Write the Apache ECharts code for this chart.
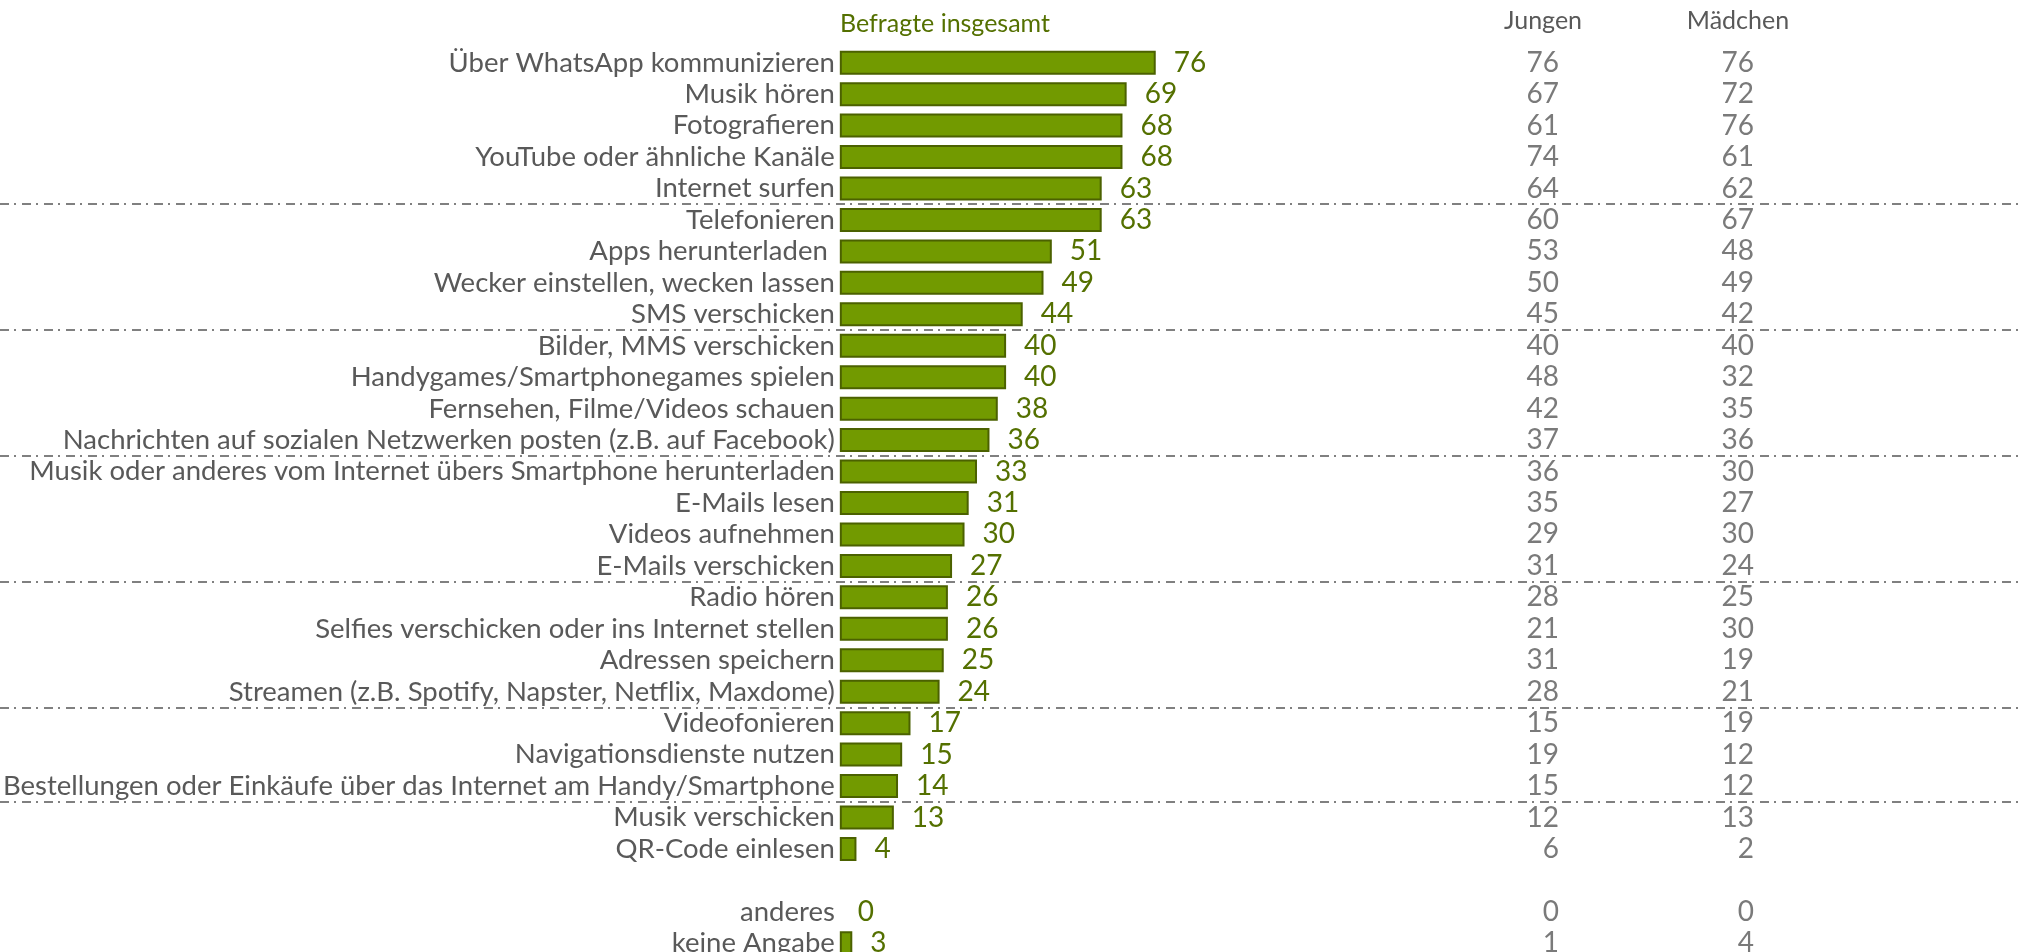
<!DOCTYPE html>
<html>
<head>
<meta charset="utf-8">
<title>Handy-Nutzung</title>
<script src="https://cdn.jsdelivr.net/npm/echarts@6/dist/echarts.min.js"></script>
<style>
  html, body { margin: 0; padding: 0; background: #fff; overflow: hidden; }
  /* unterste Zeile ist im Original abgeschnitten, daher etwas höher als das Fenster */
  #chart { width: 2020px; height: 972px; }
</style>
</head>
<body>
<div id="chart"></div>
<script>
// Kategorien (eine leere Zeile vor "anderes")
var categories = [
  'Über WhatsApp kommunizieren', 'Musik hören', 'Fotografieren', 'YouTube oder ähnliche Kanäle',
  'Internet surfen', 'Telefonieren', 'Apps herunterladen ', 'Wecker einstellen, wecken lassen',
  'SMS verschicken', 'Bilder, MMS verschicken', 'Handygames/Smartphonegames spielen',
  'Fernsehen, Filme/Videos schauen', 'Nachrichten auf sozialen Netzwerken posten (z.B. auf Facebook)',
  'Musik oder anderes vom Internet übers Smartphone herunterladen', 'E-Mails lesen', 'Videos aufnehmen',
  'E-Mails verschicken', 'Radio hören', 'Selfies verschicken oder ins Internet stellen', 'Adressen speichern',
  'Streamen (z.B. Spotify, Napster, Netflix, Maxdome)', 'Videofonieren', 'Navigationsdienste nutzen',
  'Bestellungen oder Einkäufe über das Internet am Handy/Smartphone', 'Musik verschicken', 'QR-Code einlesen',
  '', 'anderes', 'keine Angabe'
];
var total   = [76, 69, 68, 68, 63, 63, 51, 49, 44, 40, 40, 38, 36, 33, 31, 30, 27, 26, 26, 25, 24, 17, 15, 14, 13, 4, null, 0, 3];
var jungen  = [76, 67, 61, 74, 64, 60, 53, 50, 45, 40, 48, 42, 37, 36, 35, 29, 31, 28, 21, 31, 28, 15, 19, 15, 12, 6, null, 0, 1];
var maedchen = [76, 72, 76, 61, 62, 67, 48, 49, 42, 40, 32, 35, 36, 30, 27, 30, 24, 25, 30, 19, 21, 19, 12, 12, 13, 2, null, 0, 4];
var columns = ['Jungen', 'Mädchen'];
// Trennlinien nach diesen Zeilen
var groupBreaks = [5, 9, 13, 17, 21, 24];

var grey = '#595959';
var green = '#547000';
var font = 'Lato';

var rowsTop = 47;
var rowsHeight = 912;

var barData = total.map(function (v) {
  if (v === null) return '-';
  if (v === 0) return { value: 0, itemStyle: { borderWidth: 0 } };
  return v;
});

var tableData = [];
categories.forEach(function (c, i) {
  if (jungen[i] !== null) tableData.push([0, i, jungen[i]]);
  if (maedchen[i] !== null) tableData.push([1, i, maedchen[i]]);
});

var chart = echarts.init(document.getElementById('chart'));
chart.setOption({
  animation: false,
  title: {
    text: 'Befragte insgesamt',
    left: 835,
    top: 6,
    textStyle: { fontFamily: font, fontSize: 25, fontWeight: 'normal', color: green }
  },
  grid: [
    { left: 837, top: rowsTop, width: 418.5, height: rowsHeight },
    { left: 0, top: rowsTop, width: 2020, height: rowsHeight },
    { left: 1445.5, top: rowsTop, width: 390, height: rowsHeight }
  ],
  xAxis: [
    { gridIndex: 0, type: 'value', min: 0, max: 100, show: false },
    { gridIndex: 1, type: 'value', min: 0, max: 1, show: false },
    {
      gridIndex: 2, type: 'category', data: columns, position: 'top',
      axisLine: { show: false }, axisTick: { show: false },
      axisLabel: { fontFamily: font, fontSize: 25, color: grey, margin: 14 }
    }
  ],
  yAxis: [
    {
      gridIndex: 0, type: 'category', data: categories, inverse: true,
      axisLine: { show: false }, axisTick: { show: false },
      axisLabel: { fontFamily: font, fontSize: 27.5, color: grey, margin: 5, interval: 0 }
    },
    { gridIndex: 1, type: 'value', min: 0, max: categories.length, inverse: true, show: false },
    { gridIndex: 2, type: 'category', data: categories, inverse: true, show: false }
  ],
  series: [
    {
      type: 'bar',
      xAxisIndex: 0, yAxisIndex: 0,
      data: barData,
      barWidth: 24,
      itemStyle: { color: '#729a00', borderColor: '#4b6100', borderWidth: 2 },
      label: {
        show: true, position: 'right', distance: 18,
        fontFamily: font, fontSize: 28, color: green
      }
    },
    {
      type: 'line',
      xAxisIndex: 1, yAxisIndex: 1,
      data: [],
      markLine: {
        silent: true,
        symbol: 'none',
        label: { show: false },
        lineStyle: { color: '#808080', width: 2, type: [9, 5, 2, 6] },
        data: groupBreaks.map(function (v) { return { yAxis: v }; })
      }
    },
    {
      type: 'scatter',
      xAxisIndex: 2, yAxisIndex: 2,
      symbolSize: 0,
      data: tableData,
      label: {
        show: true, position: 'inside', align: 'right', offset: [16, 0],
        fontFamily: font, fontSize: 28, color: grey,
        formatter: function (p) { return p.value[2]; }
      }
    }
  ]
});
</script>
</body>
</html>
